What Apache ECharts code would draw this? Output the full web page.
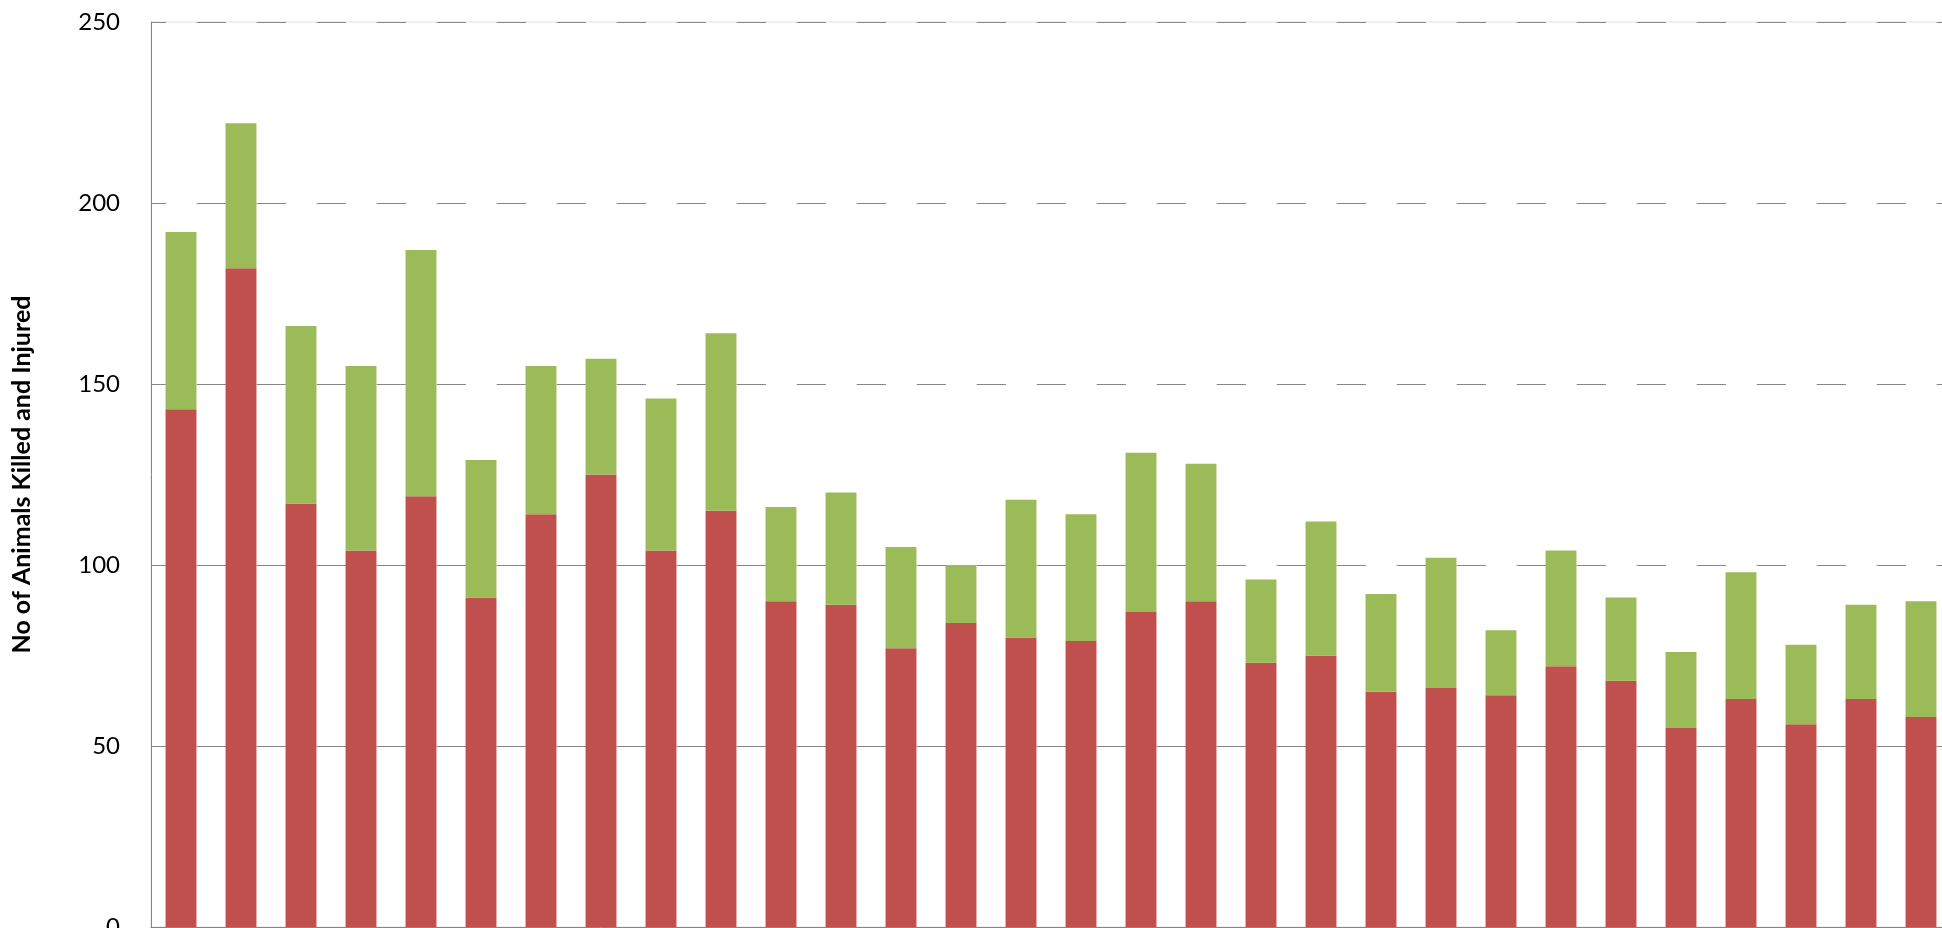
<!DOCTYPE html>
<html>
<head>
<meta charset="utf-8">
<script src="https://cdn.jsdelivr.net/npm/echarts@6/dist/echarts.min.js"></script>
<style>
  html, body { margin: 0; padding: 0; background: #ffffff; overflow: hidden; }
  #chart { width: 2000px; height: 1000px; }
</style>
</head>
<body>
<div id="chart"></div>
<script>
// Bars, left to right (30 categories visible in the reference)
const categories = ['1','2','3','4','5','6','7','8','9','10','11','12','13','14','15',
                    '16','17','18','19','20','21','22','23','24','25','26','27','28','29','30'];
// Lower (red) segment: killed
const killed  = [143,182,117,104,119, 91,114,125,104,115, 90, 89, 77, 84, 80,
                  79, 87, 90, 73, 75, 65, 66, 64, 72, 68, 55, 63, 56, 63, 58];
// Upper (green) segment: injured
const injured = [ 49, 40, 49, 51, 68, 38, 41, 32, 42, 49, 26, 31, 28, 16, 38,
                  35, 44, 38, 23, 37, 27, 36, 18, 32, 23, 21, 35, 22, 26, 32];
const yTicks = [0, 50, 100, 150, 200, 250];
const yTitle = 'No of Animals Killed and Injured';

const chart = echarts.init(document.getElementById('chart'), null, { renderer: 'canvas' });
const FONT = 'Lato, "Open Sans", "Liberation Sans", sans-serif';

chart.setOption({
  animation: false,
  backgroundColor: '#ffffff',
  grid: {
    left: 151, top: 22, width: 1800, height: 905,
    show: true, borderColor: '#e3e3e3', borderWidth: 1, backgroundColor: 'transparent'
  },
  xAxis: {
    type: 'category',
    data: categories,
    boundaryGap: true,
    axisLine: { show: true, lineStyle: { color: '#868686', width: 1 } },
    axisTick: { show: false },
    axisLabel: { show: false },
    splitLine: { show: false }
  },
  yAxis: {
    type: 'value',
    min: yTicks[0],
    max: yTicks[yTicks.length - 1],
    interval: 50,
    name: yTitle,
    nameLocation: 'middle',
    nameGap: 117,
    nameRotate: 90,
    nameTextStyle: { fontFamily: FONT, fontSize: 25, fontWeight: 'bold', color: '#000000' },
    axisLine: { show: true, lineStyle: { color: '#868686', width: 1 } },
    axisTick: { show: false },
    axisLabel: { fontFamily: FONT, fontSize: 24, color: '#000000', margin: 31 },
    splitLine: {
      show: true,
      lineStyle: { color: '#868686', width: 1, type: [29.3, 30.7], dashOffset: 14.3 }
    }
  },
  series: [
    {
      name: 'Killed',
      type: 'bar',
      stack: 'total',
      data: killed,
      barWidth: '51.5%',
      itemStyle: { color: '#C0504D' }
    },
    {
      name: 'Injured',
      type: 'bar',
      stack: 'total',
      data: injured,
      barWidth: '51.5%',
      itemStyle: { color: '#9BBB59' }
    }
  ]
});
</script>
</body>
</html>
